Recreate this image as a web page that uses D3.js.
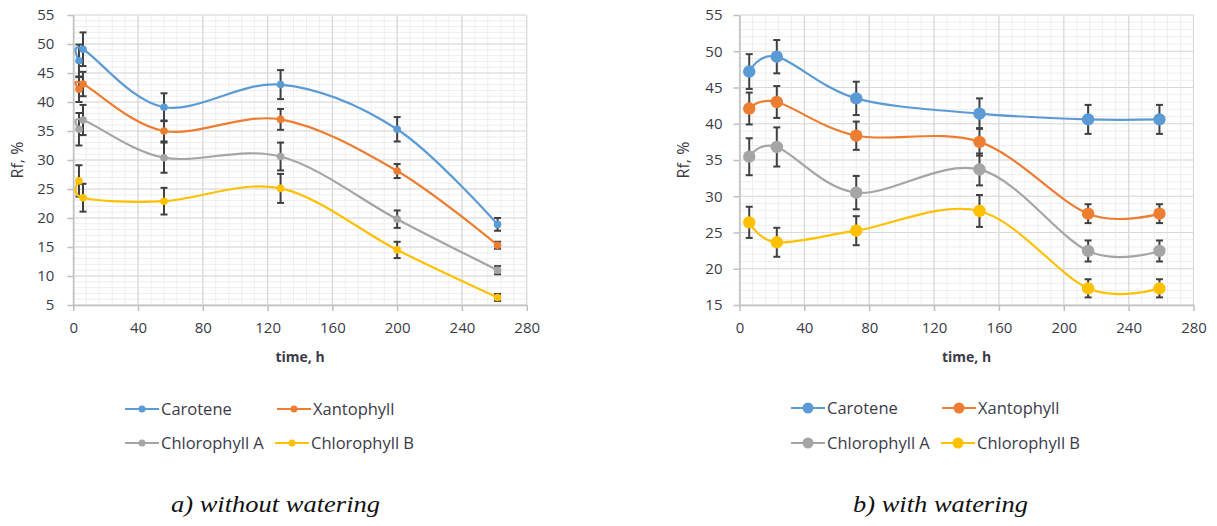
<!DOCTYPE html>
<html>
<head>
<meta charset="utf-8">
<script src="https://cdn.jsdelivr.net/npm/d3@7"></script>
<style>
  html, body { margin: 0; padding: 0; background: #fff; }
  svg { display: block; }
  text { font-family: "Open Sans", Lato, sans-serif; }
</style>
</head>
<body>
<svg id="chart" width="1217" height="526"></svg>
<script>
// ---------- data ----------
const seriesNames = ["Carotene", "Xantophyll", "Chlorophyll A", "Chlorophyll B"];
const seriesColors = ["#5B9BD5", "#ED7D31", "#A5A5A5", "#FFC000"];

// a) without watering
const timeA = [3.5, 6, 56, 128, 200, 262];
const caroteneA = [47.1, 49.1, 39.1, 43.0, 35.3, 18.9];
const caroteneErrA = [2.8, 2.9, 2.4, 2.5, 2.1, 1.1];
const xantophyllA = [42.2, 43.1, 35.0, 37.0, 28.1, 15.3];
const xantophyllErrA = [2.2, 2.1, 1.8, 1.8, 1.2, 0.6];
const chlorophyllAA = [35.3, 36.9, 30.4, 30.6, 19.8, 11.0];
const chlorophyllAErrA = [2.8, 2.6, 2.6, 2.4, 1.5, 0.7];
const chlorophyllBA = [26.4, 23.5, 22.9, 25.1, 14.5, 6.3];
const chlorophyllBErrA = [2.7, 2.4, 2.3, 2.5, 1.4, 0.6];

// b) with watering
const timeB = [6, 23, 72, 148, 215, 259];
const caroteneB = [47.2, 49.25, 43.5, 41.4, 40.6, 40.6];
const caroteneErrB = [2.4, 2.3, 2.3, 2.1, 2.0, 2.0];
const xantophyllB = [42.1, 43.0, 38.35, 37.5, 27.6, 27.6];
const xantophyllErrB = [2.2, 2.2, 1.95, 1.9, 1.3, 1.3];
const chlorophyllAB = [35.45, 36.8, 30.5, 33.7, 22.45, 22.45];
const chlorophyllAErrB = [2.55, 2.7, 2.3, 2.2, 1.45, 1.45];
const chlorophyllBB = [26.4, 23.65, 25.25, 27.97, 17.3, 17.3];
const chlorophyllBErrB = [2.15, 2.0, 2.0, 2.2, 1.25, 1.25];

const xTicks = [0, 40, 80, 120, 160, 200, 240, 280];
const yTicksA = [5, 10, 15, 20, 25, 30, 35, 40, 45, 50, 55];
const yTicksB = [15, 20, 25, 30, 35, 40, 45, 50, 55];
const xTitle = "time, h";
const yTitle = "Rf, %";
const captions = ["a) without watering", "b) with watering"];

// ---------- drawing ----------
const svg = d3.select("#chart");
const textColor = "#3b3b48";

function drawChart(cfg) {
  const g = svg.append("g");
  const x = d3.scaleLinear().domain([0, 280]).range([cfg.left, cfg.right]);
  const y = d3.scaleLinear().domain(cfg.yDomain).range([cfg.bottom, cfg.top]);

  // minor grid
  const minorX = d3.range(0, 280 + 0.001, 8);
  const minorY = d3.range(cfg.yDomain[0], cfg.yDomain[1] + 0.001, 1);
  g.append("g").selectAll("line").data(minorX).join("line")
    .attr("x1", d => x(d)).attr("x2", d => x(d))
    .attr("y1", cfg.top).attr("y2", cfg.bottom)
    .attr("stroke", "#eeeeee").attr("stroke-width", 1);
  g.append("g").selectAll("line").data(minorY).join("line")
    .attr("x1", cfg.left).attr("x2", cfg.right)
    .attr("y1", d => y(d)).attr("y2", d => y(d))
    .attr("stroke", "#eeeeee").attr("stroke-width", 1);
  // major grid
  g.append("g").selectAll("line").data(xTicks).join("line")
    .attr("x1", d => x(d)).attr("x2", d => x(d))
    .attr("y1", cfg.top).attr("y2", cfg.bottom)
    .attr("stroke", "#d9d9d9").attr("stroke-width", 1.2);
  g.append("g").selectAll("line").data(cfg.yTicks).join("line")
    .attr("x1", cfg.left).attr("x2", cfg.right)
    .attr("y1", d => y(d)).attr("y2", d => y(d))
    .attr("stroke", "#d9d9d9").attr("stroke-width", 1.2);

  // axes
  const xAxis = d3.axisBottom(x).tickValues(xTicks).tickSize(6).tickSizeOuter(0).tickPadding(11);
  const yAxis = d3.axisLeft(y).tickValues(cfg.yTicks).tickSize(6).tickSizeOuter(0).tickPadding(cfg.yPad);
  const gx = g.append("g").attr("transform", `translate(0,${cfg.bottom})`).call(xAxis);
  const gy = g.append("g").attr("transform", `translate(${cfg.left},0)`).call(yAxis);
  [gx, gy].forEach(a => {
    a.select(".domain").attr("stroke", "#bfbfbf").attr("stroke-width", 1.5);
    a.selectAll(".tick line").attr("stroke", "#bfbfbf").attr("stroke-width", 1.5);
    a.selectAll(".tick text").attr("fill", textColor)
      .style("font-family", "'Open Sans', sans-serif").style("font-size", "15px");
  });

  // axis titles
  g.append("text").attr("x", (cfg.left + cfg.right) / 2).attr("y", cfg.bottom + 57)
    .attr("text-anchor", "middle").attr("fill", textColor)
    .style("font-size", "14px").style("font-weight", "bold").text(xTitle);
  g.append("text")
    .attr("transform", `translate(${cfg.yTitleX},${(cfg.top + cfg.bottom) / 2}) rotate(-90)`)
    .attr("text-anchor", "middle").attr("dy", "0.35em").attr("fill", textColor)
    .style("font-size", "16px").text(yTitle);

  // series
  const line = d3.line().curve(d3.curveCardinal.tension(0))
    .x(d => x(d.t)).y(d => y(d.v));
  cfg.series.forEach((s, si) => {
    const pts = cfg.time.map((t, i) => ({ t, v: s.values[i], e: s.errors[i] }));
    const sg = g.append("g");
    // error bars
    const eb = sg.append("g").selectAll("g").data(pts).join("g");
    eb.append("line").attr("x1", d => x(d.t)).attr("x2", d => x(d.t))
      .attr("y1", d => y(d.v - d.e)).attr("y2", d => y(d.v + d.e))
      .attr("stroke", "#404040").attr("stroke-width", 2);
    [-1, 1].forEach(sign => {
      eb.append("line").attr("x1", d => x(d.t) - cfg.cap).attr("x2", d => x(d.t) + cfg.cap)
        .attr("y1", d => y(d.v + sign * d.e)).attr("y2", d => y(d.v + sign * d.e))
        .attr("stroke", "#404040").attr("stroke-width", 2);
    });
    sg.append("path").datum(pts).attr("d", line)
      .attr("fill", "none").attr("stroke", seriesColors[si]).attr("stroke-width", cfg.lineWidth);
    sg.append("g").selectAll("circle").data(pts).join("circle")
      .attr("cx", d => x(d.t)).attr("cy", d => y(d.v)).attr("r", cfg.markerR)
      .attr("fill", seriesColors[si]);
  });

  // legend
  const lg = g.append("g");
  const legPos = [
    [cfg.legX0, cfg.legY0], [cfg.legX1, cfg.legY0],
    [cfg.legX0, cfg.legY1], [cfg.legX1b, cfg.legY1]
  ];
  seriesNames.forEach((n, i) => {
    const [lx, ly] = legPos[i];
    lg.append("line").attr("x1", lx).attr("x2", lx + cfg.legLine).attr("y1", ly).attr("y2", ly)
      .attr("stroke", seriesColors[i]).attr("stroke-width", 2.2);
    lg.append("circle").attr("cx", lx + cfg.legLine / 2).attr("cy", ly).attr("r", cfg.legR)
      .attr("fill", seriesColors[i]);
    lg.append("text").attr("x", lx + cfg.legLine + 2).attr("y", ly).attr("dy", "0.35em")
      .attr("fill", textColor).style("font-size", "16.5px").text(n);
  });

  // caption
  svg.append("text").attr("x", cfg.capX).attr("y", 512)
    .attr("text-anchor", "middle").attr("fill", "#111")
    .attr("textLength", cfg.capW).attr("lengthAdjust", "spacingAndGlyphs")
    .style("font-family", "'Liberation Serif', serif").style("font-style", "italic")
    .style("font-size", "23px").text(cfg.caption);
}

drawChart({
  left: 73.3, right: 526.7, top: 15, bottom: 305, yDomain: [5, 55], yTicks: yTicksA,
  time: timeA, yPad: 13, yTitleX: 17,
  series: [
    { values: caroteneA, errors: caroteneErrA },
    { values: xantophyllA, errors: xantophyllErrA },
    { values: chlorophyllAA, errors: chlorophyllAErrA },
    { values: chlorophyllBA, errors: chlorophyllBErrA }
  ],
  cap: 3.5, lineWidth: 2.2, markerR: 3.8,
  legX0: 125, legX1: 277, legX1b: 275, legY0: 409, legY1: 443, legLine: 34, legR: 3.5,
  caption: captions[0], capX: 275.5, capW: 209
});

drawChart({
  left: 739.5, right: 1193.5, top: 15, bottom: 305, yDomain: [15, 55], yTicks: yTicksB,
  time: timeB, yPad: 11, yTitleX: 683,
  series: [
    { values: caroteneB, errors: caroteneErrB },
    { values: xantophyllB, errors: xantophyllErrB },
    { values: chlorophyllAB, errors: chlorophyllAErrB },
    { values: chlorophyllBB, errors: chlorophyllBErrB }
  ],
  cap: 3.5, lineWidth: 2.2, markerR: 6.2,
  legX0: 791, legX1: 942, legX1b: 941, legY0: 408, legY1: 443, legLine: 34, legR: 5.5,
  caption: captions[1], capX: 940.5, capW: 175
});
</script>
</body>
</html>
